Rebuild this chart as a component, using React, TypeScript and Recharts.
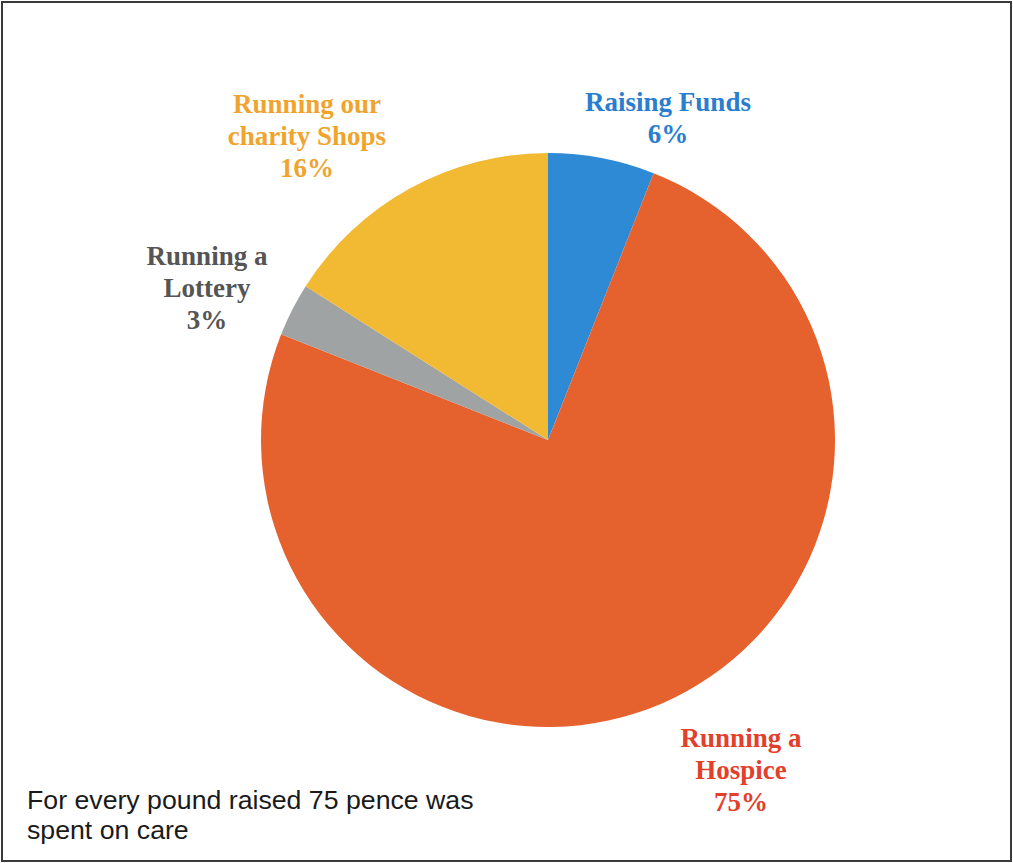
import { PieChart, Pie, Cell } from 'recharts';

const categories = ['Raising Funds', 'Running a Hospice', 'Running a Lottery', 'Running our charity Shops'];
const values = [6, 75, 3, 16];
const labelLines = [
  ['Raising Funds', '6%'],
  ['Running a', 'Hospice', '75%'],
  ['Running a', 'Lottery', '3%'],
  ['Running our', 'charity Shops', '16%'],
];

const sliceColors = ['#2F8AD6', '#E5622E', '#A0A3A3', '#F2B932'];
const textColors = ['#2A7ED0', '#E2402A', '#555555', '#F0A42E'];
// label block centres relative to the pie centre (layout only)
const labelOffsets = [
  { x: 120, y: -322 },
  { x: 193, y: 330 },
  { x: -341, y: -152 },
  { x: -241, y: -304 },
];

const data = categories.map((name, i) => ({ name, value: values[i] }));

const CX = 548;
const CY = 440;

function renderLabel(props: any) {
  const { index } = props;
  const lines = labelLines[index];
  const off = labelOffsets[index];
  const x = CX + off.x;
  const y = CY + off.y;
  return (
    <text
      x={x}
      y={y}
      textAnchor="middle"
      fill={textColors[index]}
      style={{ fontFamily: '"Liberation Serif", serif', fontWeight: 700, fontSize: 27 }}
    >
      {lines.map((t, i) => (
        <tspan key={i} x={x} y={y + (i - (lines.length - 1) / 2) * 32 + 9}>
          {t}
        </tspan>
      ))}
    </text>
  );
}

export default function App() {
  return (
    <div style={{ position: 'absolute', left: 0, top: 0, width: 1013, height: 863, background: '#fff' }}>
      <div
        style={{
          position: 'absolute',
          left: 1,
          top: 1,
          width: 1007,
          height: 857,
          border: '2px solid #3a3a3a',
        }}
      />
      <PieChart width={1013} height={863} margin={{ top: 0, right: 0, bottom: 0, left: 0 }}>
        <Pie
          data={data}
          dataKey="value"
          nameKey="name"
          cx={CX}
          cy={CY}
          outerRadius={287}
          startAngle={90}
          endAngle={-270}
          stroke="none"
          label={renderLabel}
          labelLine={false}
          isAnimationActive={false}
        >
          {data.map((d, i) => (
            <Cell key={d.name} fill={sliceColors[i]} />
          ))}
        </Pie>
      </PieChart>
      <div
        style={{
          position: 'absolute',
          left: 27,
          top: 785,
          fontFamily: '"Liberation Sans", Arial, sans-serif',
          fontSize: 26.7,
          lineHeight: '30px',
          color: '#1a1a1a',
        }}
      >
        For every pound raised 75 pence was
        <br />
        spent on care
      </div>
    </div>
  );
}
